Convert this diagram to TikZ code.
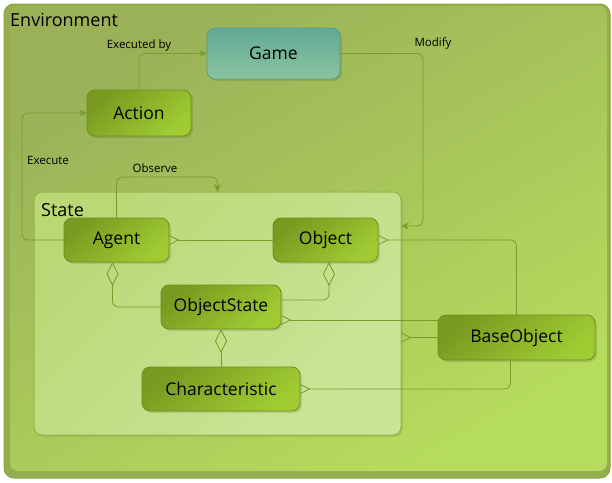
\documentclass[tikz,border=0pt]{standalone}
\usepackage{fontspec}
\setmainfont{Open Sans}
\usetikzlibrary{arrows.meta,calc,shadows}
\definecolor{envBase}{HTML}{93AD4F}
\definecolor{envA}{HTML}{9AB158}
\definecolor{envB}{HTML}{B6DC5D}
\definecolor{envLine}{HTML}{89A442}
\definecolor{stA}{HTML}{BAD876}
\definecolor{stB}{HTML}{CBE598}
\definecolor{stLine}{HTML}{94B648}
\definecolor{ndA}{HTML}{789A20}
\definecolor{ndB}{HTML}{A0CC32}
\definecolor{ndLine}{HTML}{6E8E1F}
\definecolor{gmA}{HTML}{62A895}
\definecolor{gmB}{HTML}{8AC4A0}
\definecolor{gmLine}{HTML}{5B9C86}
\definecolor{cn}{HTML}{7B9B2A}
\begin{document}
\begin{tikzpicture}[x=1pt,y=-1pt,
  envbox/.style={draw=envLine, line width=1pt, rounded corners=10pt, fill=envBase,
    minimum width=606pt, minimum height=474pt, outer sep=0pt},
  envpanel/.style={rounded corners=8pt, top color=envA, bottom color=envB, shading angle=30},
  statebox/.style={draw=stLine, line width=1pt, rounded corners=8pt, top color=stA, bottom color=stB,
    shading angle=45, minimum width=367pt, minimum height=243pt, outer sep=0pt,
    general shadow={fill=black, opacity=0.08, shadow xshift=2pt, shadow yshift=-2pt}},
  entity/.style={draw=ndLine, line width=0.8pt, rounded corners=8pt, top color=ndA, bottom color=ndB,
    shading angle=40, font=\fontsize{17.5}{20}\selectfont, text=black, outer sep=0pt,
    minimum height=44pt, inner sep=2pt,
    general shadow={fill=black, opacity=0.1, shadow xshift=2pt, shadow yshift=-2pt}},
  gamebox/.style={entity, draw=gmLine, top color=gmA, bottom color=gmB},
  title/.style={font=\fontsize{18}{21}\selectfont, anchor=west, inner sep=0pt, text=black},
  lbl/.style={font=\fontsize{11.5}{13}\selectfont, inner sep=0pt, text=black},
  conn/.style={draw=cn, line width=0.8pt, rounded corners=6pt},
  flow/.style={conn, -{Stealth[length=8pt,width=7pt]}},
  crow/.style={conn, {Straight Barb[reversed,length=9pt,width=9pt]}-},
  agg/.style={conn, {Diamond[open,length=24pt,width=12pt]}-}
]
\useasboundingbox (0,0) rectangle (612,482);
% containers
\node[envbox] (env) at (307,241) {};
\path[envpanel] (10,6) rectangle (607,471);
\node[title] (envlbl) at (10,20) {Environment};
\node[statebox] (state) at (217.5,313.5) {};
\node[title] (statelbl) at (41,210) {State};
% entities
\node[gamebox, minimum width=133pt, minimum height=51pt] (game) at (273.5,53.5) {Game};
\node[entity, minimum width=104pt, minimum height=46pt] (act) at (139,113) {Action};
\node[entity, minimum width=105pt] (agent) at (116.5,240) {Agent};
\node[entity, minimum width=105pt] (obj) at (325.5,240) {Object};
\node[entity, minimum width=120pt] (os) at (221,307) {ObjectState};
\node[entity, minimum width=158pt] (char) at (221,389) {Characteristic};
\node[entity, minimum width=157pt, minimum height=45pt] (base) at (516.5,337.5) {BaseObject};
% directed connectors
\draw[flow] (act.north) |- (game.west);
\draw[flow] (agent.west) -- ++(-42,0) |- (act.west);
\draw[flow] (agent.north) -- ++(0,-41) -| (state.north);
\draw[flow] (game.east) -| ($(state.north east)+(22,34)$) -- ($(state.north east)+(0,34)$);
% labels
\node[lbl] (lexec) at (139,46) {Executed by};
\node[lbl] (lexe) at (48,160) {Execute};
\node[lbl] (lobs) at (155,168) {Observe};
\node[lbl] (lmod) at (433,43) {Modify};
% associations
\draw[crow] (agent.east) -- (obj.west);
\draw[crow] (obj.east) -| (base.north);
\coordinate (os1) at ($(os.east)+(0,13)$);
\draw[crow] (os1) -- (os1 -| base.west);
\draw[crow] (state.east |- base.west) -- (base.west);
\draw[crow] (char.east) -| ($(base.south)+(-6,0)$);
% aggregations
\draw[agg] ($(agent.south)+(-4,0)$) |- (os.west);
\draw[agg] ($(obj.south)+(3.5,0)$) |- ($(os.east)+(0,-7)$);
\draw[agg] (os.south) -- (char.north);
\end{tikzpicture}
\end{document}
